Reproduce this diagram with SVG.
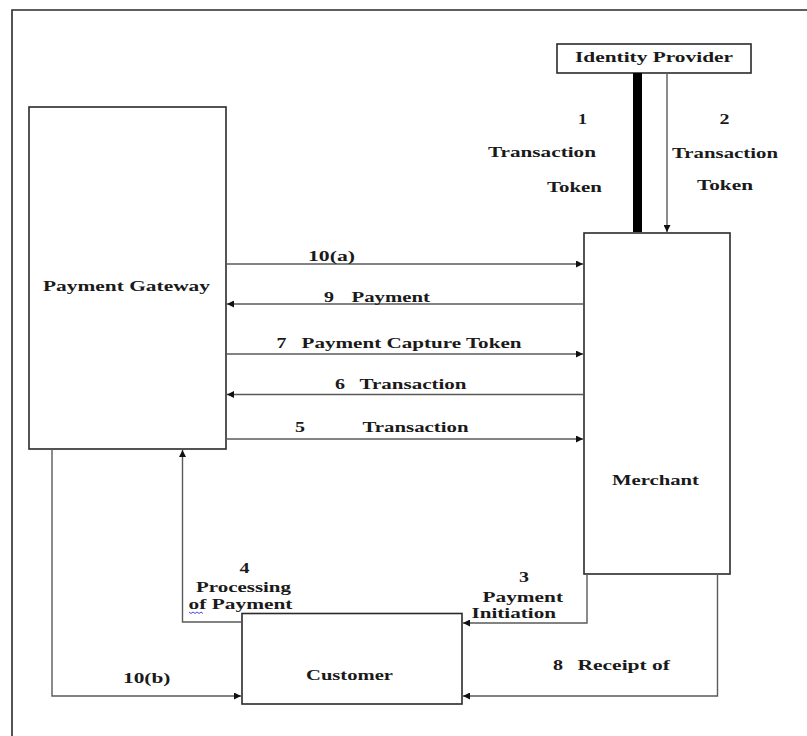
<svg xmlns="http://www.w3.org/2000/svg" width="807" height="736" viewBox="0 0 807 736">
<defs>
<marker id="ah" viewBox="0 0 10 10" refX="10" refY="5" markerWidth="9" markerHeight="7" markerUnits="userSpaceOnUse" orient="auto">
<path d="M0,0 L10,5 L0,10 z" fill="#111"/>
</marker>
<style>
.box{fill:#fff;stroke:#2a2a2a;stroke-width:1.6}
.ln{fill:none;stroke:#5a5a5a;stroke-width:1.4}
.ar{fill:none;stroke:#5a5a5a;stroke-width:1.4;marker-end:url(#ah)}
text{font-family:"Liberation Serif","Times New Roman",serif;font-weight:bold;font-size:15px;fill:#1a1a1a}
</style>
</defs>
<rect width="807" height="736" fill="#fff"/>
<path d="M12 736 V10 H807" fill="none" stroke="#2a2a2a" stroke-width="1.6"/>

<g id="identity-provider">
<rect class="box" x="557" y="44" width="194" height="29"/>
<text x="575" y="62" textLength="158" lengthAdjust="spacingAndGlyphs">Identity Provider</text>
</g>
<g id="payment-gateway">
<rect class="box" x="29" y="107" width="197" height="342"/>
<text x="43" y="291" textLength="167" lengthAdjust="spacingAndGlyphs">Payment Gateway</text>
</g>
<g id="merchant">
<rect class="box" x="584" y="233" width="146" height="341"/>
<text x="612" y="484.5" textLength="87" lengthAdjust="spacingAndGlyphs">Merchant</text>
</g>
<g id="customer">
<rect class="box" x="242" y="613.5" width="220" height="90.5"/>
<text x="306" y="679.5" textLength="87" lengthAdjust="spacingAndGlyphs">Customer</text>
</g>

<g id="connectors">
<line x1="637.5" y1="73" x2="637.5" y2="232" stroke="#000" stroke-width="9"/>
<line class="ar" x1="667" y1="73" x2="667" y2="232"/>
<line class="ar" x1="226" y1="264" x2="583" y2="264"/>
<line class="ar" x1="583" y1="304" x2="227" y2="304"/>
<line class="ar" x1="226" y1="354" x2="583" y2="354"/>
<line class="ar" x1="583" y1="394.5" x2="227" y2="394.5"/>
<line class="ar" x1="226" y1="439" x2="583" y2="439"/>
<path class="ar" d="M587 574 V623 H463"/>
<path class="ar" d="M717.5 574 V696 H463"/>
<path class="ar" d="M242 622 H182.5 V450"/>
<path class="ar" d="M52 449 V696 H241"/>

<text x="578" y="124" textLength="9" lengthAdjust="spacingAndGlyphs">1</text>
<text x="488" y="157" textLength="108" lengthAdjust="spacingAndGlyphs">Transaction</text>
<text x="547" y="192" textLength="55" lengthAdjust="spacingAndGlyphs">Token</text>
<text x="719.5" y="124" textLength="10" lengthAdjust="spacingAndGlyphs">2</text>
<text x="672" y="158" textLength="106" lengthAdjust="spacingAndGlyphs">Transaction</text>
<text x="697" y="190" textLength="56" lengthAdjust="spacingAndGlyphs">Token</text>

<text x="308" y="261" textLength="47" lengthAdjust="spacingAndGlyphs">10(a)</text>
<text x="324" y="301.5" textLength="10" lengthAdjust="spacingAndGlyphs">9</text>
<text x="351.5" y="301.5" textLength="78.5" lengthAdjust="spacingAndGlyphs">Payment</text>
<text x="276.5" y="347.5" textLength="10" lengthAdjust="spacingAndGlyphs">7</text>
<text x="301.5" y="347.5" textLength="220" lengthAdjust="spacingAndGlyphs">Payment Capture Token</text>
<text x="335" y="388.5" textLength="10" lengthAdjust="spacingAndGlyphs">6</text>
<text x="359.5" y="388.5" textLength="107" lengthAdjust="spacingAndGlyphs">Transaction</text>
<text x="295" y="432" textLength="10" lengthAdjust="spacingAndGlyphs">5</text>
<text x="362.5" y="432" textLength="106" lengthAdjust="spacingAndGlyphs">Transaction</text>

<text x="519" y="582" textLength="10" lengthAdjust="spacingAndGlyphs">3</text>
<text x="482.5" y="601.5" textLength="80.5" lengthAdjust="spacingAndGlyphs">Payment</text>
<text x="471.5" y="618" textLength="84.5" lengthAdjust="spacingAndGlyphs">Initiation</text>

<text x="239.5" y="573" textLength="10" lengthAdjust="spacingAndGlyphs">4</text>
<text x="196" y="591.5" textLength="95" lengthAdjust="spacingAndGlyphs">Processing</text>
<text x="188.5" y="609" textLength="104" lengthAdjust="spacingAndGlyphs">of Payment</text>
<path d="M189 612 l2 1.5 l2 -1.5 l2 1.5 l2 -1.5 l2 1.5 l2 -1.5 l2 1.5" fill="none" stroke="#2b3fd6" stroke-width="0.9"/>

<text x="123" y="683" textLength="47.5" lengthAdjust="spacingAndGlyphs">10(b)</text>
<text x="553" y="670" textLength="10" lengthAdjust="spacingAndGlyphs">8</text>
<text x="577.5" y="670" textLength="92.5" lengthAdjust="spacingAndGlyphs">Receipt of</text>
</g>
</svg>
